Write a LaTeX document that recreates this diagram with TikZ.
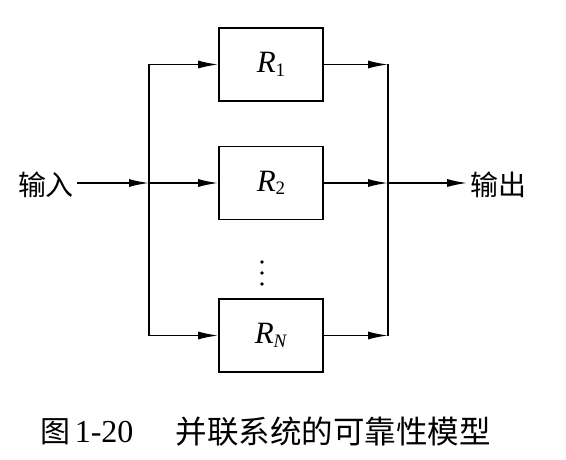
\documentclass[tikz,border=0pt]{standalone}
\usepackage{fontspec}
\setmainfont{Liberation Serif}
\newfontfamily\cjk{Noto Sans CJK SC}
\usetikzlibrary{arrows.meta}
\begin{document}
\begin{tikzpicture}[x=1pt,y=-1pt,line width=1.6pt,
  blk/.style={draw, minimum width=104pt, minimum height=73pt, inner sep=0pt},
  arr/.style={-{Latex[length=20pt,width=8pt]}},
  lab/.style={inner sep=2pt, font=\fontsize{28}{32}\selectfont\cjk},
  captxt/.style={inner sep=0pt, anchor=west, font=\fontsize{30}{34}\selectfont}]
\useasboundingbox (0,0) rectangle (566,460);
\newcommand{\Rlab}[1]{\fontsize{31}{36}\selectfont\textit{R}\raisebox{-0.25ex}{\fontsize{19}{22}\selectfont #1}}
\node[blk] (r1) at (271,64.5) {\Rlab{1}};
\node[blk] (r2) at (271,183) {\Rlab{2}};
\node[blk] (rN) at (271,335.5) {\Rlab{\textit{N}}};
\coordinate (bl1) at (149,64.5);
\coordinate (bl2) at (149,183);
\coordinate (blN) at (149,335.5);
\coordinate (br1) at (388,64.5);
\coordinate (br2) at (388,183);
\coordinate (brN) at (388,335.5);
\node[lab] (in) at (46,185) {输入};
\node[lab] (out) at (498,185) {输出};
\draw[arr] (in.east |- bl2) -- (bl2);
\draw (bl1) -- (blN);
\draw[arr] (bl1) -- (r1.west);
\draw[arr] (bl2) -- (r2.west);
\draw[arr] (blN) -- (rN.west);
\draw[arr] (r1.east) -- (br1);
\draw[arr] (r2.east) -- (br2);
\draw[arr] (rN.east) -- (brN);
\draw (br1) -- (brN);
\draw[arr] (br2) -- (out.west |- br2);
\foreach \y in {262,273,284} \fill (262,\y) circle (1.8pt);
\node[captxt] (c1) at (40,432) {\cjk 图};
\node[captxt] (c2) at (74,432) {\fontsize{32}{34}\selectfont 1-20};
\node[captxt] (c3) at (175,432) {\fontsize{31.5}{34}\selectfont\cjk 并联系统的可靠性模型};
\end{tikzpicture}
\end{document}
